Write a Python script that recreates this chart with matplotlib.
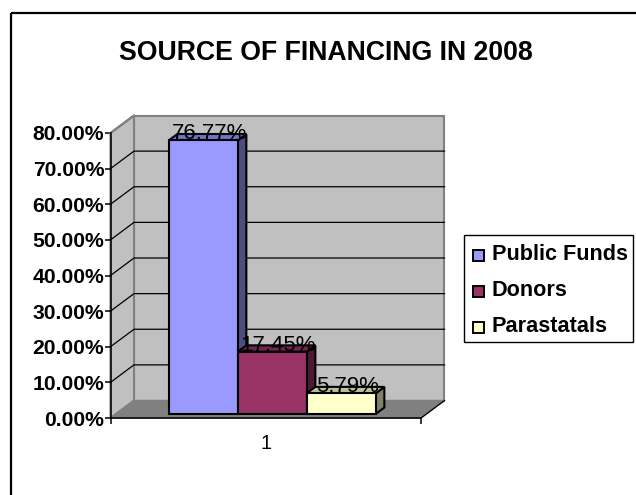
import matplotlib
matplotlib.use("Agg")
import matplotlib.pyplot as plt
from matplotlib.patches import Polygon, Rectangle

categories = ["1"]
series_names = ["Public Funds", "Donors", "Parastatals"]
series_values = [76.77, 17.45, 5.79]
value_labels = ["76.77%", "17.45%", "5.79%"]
face_colors = ["#9999FF", "#993366", "#FFFFCC"]
side_colors = ["#4D4D80", "#4D1A33", "#808066"]
top_colors = ["#7373BF", "#732650", "#BFBF99"]
y_ticks = [0, 10, 20, 30, 40, 50, 60, 70, 80]
y_tick_labels = ["0.00%", "10.00%", "20.00%", "30.00%", "40.00%", "50.00%", "60.00%", "70.00%", "80.00%"]

W, H = 636, 495
plt.rcParams["font.family"] = ["Liberation Sans", "DejaVu Sans"]
fig = plt.figure(figsize=(W / 100, H / 100), dpi=100)

# page frame
bg = fig.add_axes([0, 0, 1, 1])
bg.set_xlim(0, W); bg.set_ylim(H, 0); bg.axis("off")
bg.plot([10.5, 10.5], [H, 12.5], color="black", lw=1.6, solid_capstyle="butt")
bg.plot([10.5, W], [12.5, 12.5], color="black", lw=1.6, solid_capstyle="butt")

L, R, Y0, Y80 = 110.5, 421, 418, 133
ax = fig.add_axes([L / W, 1 - Y0 / H, (R - L) / W, (Y0 - Y80) / H])
ax.set_xlim(0.5, 1.5)
ax.set_ylim(0, 80)
ax.patch.set_visible(False)
for s in ["top", "right"]:
    ax.spines[s].set_visible(False)
for s in ["left", "bottom"]:
    ax.spines[s].set_linewidth(1.1)
    ax.spines[s].set_zorder(9)

PX = 1 / (R - L)              # one pixel in x units
PY = 80 / (Y0 - Y80)          # one pixel in y units
DX = 23.5 * PX                # full depth in x units
DY = 17.5 * PY                # full depth in y units


def p(x, y, d):
    return (x + d * DX, y + d * DY)


def poly(pts, fc, ec, lw, z):
    ax.add_patch(Polygon(pts, closed=True, facecolor=fc, edgecolor=ec, lw=lw,
                         joinstyle="miter", clip_on=False, zorder=z))


x0, x1, ymax = 0.5, 1.5, 80
poly([p(x0, 0, 1), p(x1, 0, 1), p(x1, ymax, 1), p(x0, ymax, 1)], "#C0C0C0", "#808080", 1.5, 1)
poly([p(x0, 0, 0), p(x0, 0, 1), p(x0, ymax, 1), p(x0, ymax, 0)], "#C0C0C0", "#808080", 1.5, 1)
poly([p(x0, 0, 0), p(x1, 0, 0), p(x1, 0, 1), p(x0, 0, 1)], "#808080", "#808080", 1.0, 1)

for t in y_ticks[1:-1]:
    ax.plot(*zip(p(x0, t, 0), p(x0, t, 1), p(x1, t, 1)), color="black", lw=0.9,
            clip_on=False, zorder=2)
ax.plot(*zip(p(x0, 80, 0), p(x0, 80, 1)), color="#808080", lw=1.5, clip_on=False, zorder=2)
ax.plot(*zip(p(x1, 0, 0), p(x1, 0, 1)), color="black", lw=0.9, clip_on=False, zorder=2)

width = 2 / 9
d0, d1 = 0.24, 0.60
left = 1 - 1.5 * width + 1 * PX
z = 3
for v, fc, sc, tc, lab in zip(series_values, face_colors, side_colors, top_colors, value_labels):
    r = left + width
    poly([p(r, 0, d0), p(r, 0, d1), p(r, v, d1), p(r, v, d0)], sc, "black", 1.5, z)
    poly([p(left, v, d0), p(r, v, d0), p(r, v, d1), p(left, v, d1)], tc, "black", 1.5, z)
    poly([p(left, 0, d0), p(r, 0, d0), p(r, v, d0), p(left, v, d0)], fc, "black", 1.5, z)
    cx, cy = p(left + width / 2, v, d0)
    ax.text(cx + 6 * PX, cy + 6.5 * PY, lab, ha="center", va="center", fontsize=16,
            color="black", zorder=10, clip_on=False)
    left = r
    z += 1

ax.set_xticks([0.5, 1.5], ["", ""])
ax.set_yticks(y_ticks, y_tick_labels, fontsize=15.2, fontweight="bold")
ax.tick_params(axis="y", length=4, width=1.1, pad=0.5)
ax.tick_params(axis="x", length=4.5, width=1.1)
ax.text(1.0, -7.2, categories[0], ha="center", va="center", fontsize=14.5)

fig.text(325.5 / W, 1 - 53.5 / H, "SOURCE OF FINANCING IN 2008", ha="center", va="center",
         fontsize=19.2, fontweight="bold")

# legend
bg.add_patch(Rectangle((464, 235), 169, 107, fc="white", ec="black", lw=1.0, zorder=5))
for i, (name, fc) in enumerate(zip(series_names, face_colors)):
    yc = 255 + i * 36
    bg.add_patch(Rectangle((473, yc - 5.5), 11, 11, fc=fc, ec="black", lw=1.4, zorder=6))
    bg.text(491.7, yc - 0.5, name, ha="left", va="center", fontsize=15.6, fontweight="bold", zorder=6)

fig.savefig("out.png", dpi=100)
